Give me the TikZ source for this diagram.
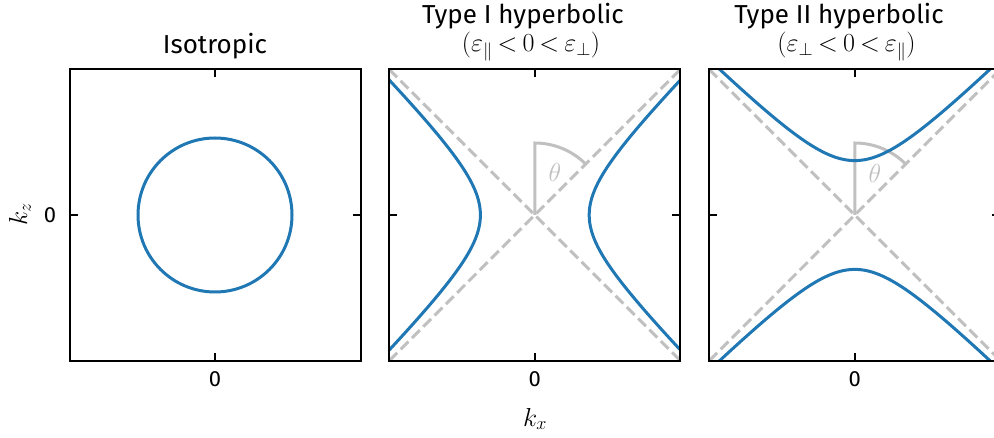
\RequirePackage{fix-cm}
\documentclass[tikz,border=0pt]{standalone}
\usepackage[no-math]{fontspec}
\setmainfont{Fira Sans}
\usetikzlibrary{calc}
\definecolor{mblue}{HTML}{1F77B4}
\definecolor{msilver}{HTML}{C0C0C0}
\begin{document}
\begin{tikzpicture}[x=1pt,y=-1pt,
  frame/.style={line width=2pt, black},
  curve/.style={line width=3pt, mblue},
  asym/.style={line width=3pt, msilver, dash pattern=on 11pt off 5pt},
  anglemark/.style={line width=3pt, msilver},
  tickmark/.style={line width=1.5pt, black},
  titletext/.style={font=\fontsize{26}{30}\selectfont, anchor=base, inner sep=0pt},
  ticklab/.style={font=\fontsize{22}{26}\selectfont, inner sep=0pt},
  axlab/.style={font=\fontsize{26}{30}\selectfont, inner sep=0pt}]
\useasboundingbox (0,0) rectangle (994,438);
\clip (0,0) rectangle (994,438);
% panel corners and centres
\foreach \i/\l in {1/69.5, 2/389.3, 3/709.3}{
  \coordinate (p\i nw) at (\l,69.5);
  \coordinate (p\i se) at (\l+291,360.6);
  \coordinate (p\i ne) at (\l+291,69.5);
  \coordinate (p\i sw) at (\l,360.6);
  \coordinate (c\i) at (\l+145.5,215);
}
% panel 1: circle
\draw[curve] (c1) circle[radius=77];
% panel 2: type I
\begin{scope}
  \clip (p2nw) rectangle (p2se);
  \draw[asym] (p2nw) -- (p2se);
  \draw[asym] (p2sw) -- (p2ne);
  \draw[anglemark] (c2) -- ++(0,-72) arc[start angle=-90, end angle=-45, radius=72];
  \begin{scope}[shift={(c2)}]
    \draw[curve] plot[domain=-1.9:1.9, samples=120, variable=\t] ({54.4*cosh(\t)},{54.4*sinh(\t)});
    \draw[curve] plot[domain=-1.9:1.9, samples=120, variable=\t] ({-54.4*cosh(\t)},{54.4*sinh(\t)});
  \end{scope}
\end{scope}
% panel 3: type II
\begin{scope}
  \clip (p3nw) rectangle (p3se);
  \draw[asym] (p3nw) -- (p3se);
  \draw[asym] (p3sw) -- (p3ne);
  \draw[anglemark] (c3) -- ++(0,-72) arc[start angle=-90, end angle=-45, radius=72];
  \begin{scope}[shift={(c3)}]
    \draw[curve] plot[domain=-1.9:1.9, samples=120, variable=\t] ({54.4*sinh(\t)},{-54.4*cosh(\t)});
    \draw[curve] plot[domain=-1.9:1.9, samples=120, variable=\t] ({54.4*sinh(\t)},{54.4*cosh(\t)});
  \end{scope}
\end{scope}
% frames and ticks
\foreach \i in {1,2,3}{
  \draw[frame] (p\i nw) rectangle (p\i se);
  \draw[tickmark] (p\i nw -| c\i) -- ++(0,8);
  \draw[tickmark] (p\i se -| c\i) -- ++(0,-8);
  \draw[tickmark] (p\i nw |- c\i) -- ++(8,0);
  \draw[tickmark] (p\i se |- c\i) -- ++(-8,0);
  \node[ticklab] (zx\i) at ($(c\i)+(0,164)$) {0};
}
\node[ticklab] (zz) at (50,215) {0};
% theta labels
\node[axlab, text=msilver] (th2) at (555,172) {$\theta$};
\node[axlab, text=msilver] (th3) at (875,173) {$\theta$};
% axis labels
\node[axlab] (kx) at (535,419) {$k_x$};
\node[axlab, rotate=90] (kz) at (20,214) {$k_z$};
% titles
\node[titletext] (t1) at (215,53.5) {Isotropic};
\node[titletext] (t2a) at (523,23.5) {Type I hyperbolic};
\node[titletext] (t2b) at (531,52) {$\thickmuskip=3.5mu\relax(\varepsilon_\parallel < 0 < \varepsilon_\perp)$};
\node[titletext] (t3a) at (839,23.5) {Type II hyperbolic};
\node[titletext] (t3b) at (846.5,52) {$\thickmuskip=3.5mu\relax(\varepsilon_\perp < 0 < \varepsilon_\parallel)$};
\end{tikzpicture}
\end{document}
